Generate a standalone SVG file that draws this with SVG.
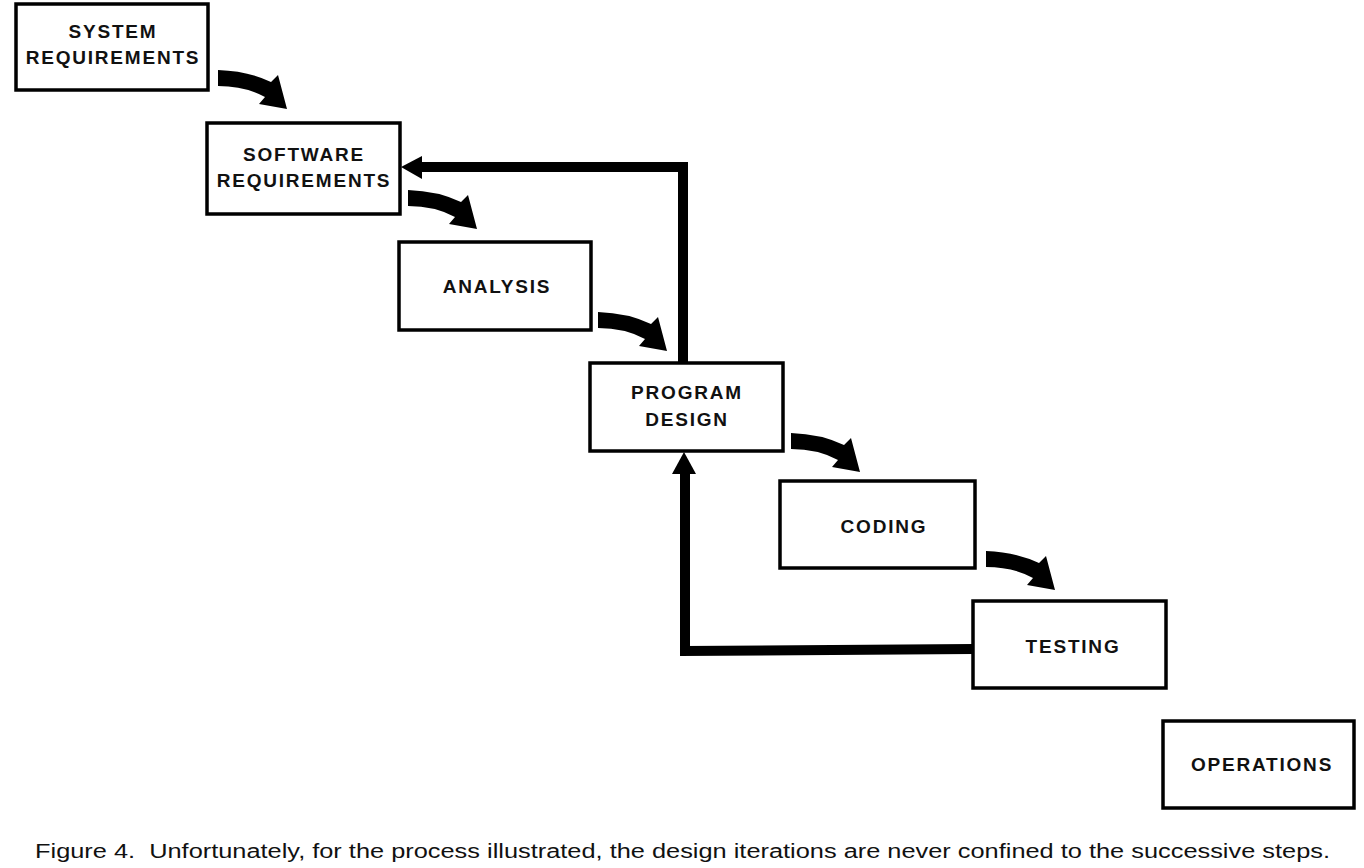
<svg xmlns="http://www.w3.org/2000/svg" width="1364" height="868" viewBox="0 0 1364 868">
<defs>
<style>
.box{fill:#fff;stroke:#000;stroke-width:3.5}
.lbl{font-family:"Liberation Sans",Arial,sans-serif;font-weight:bold;font-size:19px;letter-spacing:1.8px;text-anchor:middle;fill:#111}
.fb{fill:none;stroke:#000;stroke-width:10;stroke-linejoin:miter}
.cap{font-family:"Liberation Sans",Arial,sans-serif;font-size:20px;fill:#111;white-space:pre}
</style>
<path id="carrow" d="M0,-8 Q30,-7 53,4 L60,-3 L69,31 L41,26 L47,19 Q27,8 0,8 Z" fill="#000"/>
</defs>
<rect width="1364" height="868" fill="#fff"/>
<g id="node-system-requirements">
<rect class="box" x="16" y="4" width="192" height="86"/>
<text class="lbl" x="113" y="38">SYSTEM</text>
<text class="lbl" x="113" y="64">REQUIREMENTS</text>
</g>
<g id="node-software-requirements">
<rect class="box" x="207" y="123" width="193" height="91"/>
<text class="lbl" x="304" y="161">SOFTWARE</text>
<text class="lbl" x="304" y="187">REQUIREMENTS</text>
</g>
<g id="node-analysis">
<rect class="box" x="399" y="242" width="192" height="88"/>
<text class="lbl" x="497" y="293">ANALYSIS</text>
</g>
<g id="node-program-design">
<rect class="box" x="590" y="363" width="193" height="88"/>
<text class="lbl" x="687" y="399">PROGRAM</text>
<text class="lbl" x="687" y="426">DESIGN</text>
</g>
<g id="node-coding">
<rect class="box" x="780" y="481" width="195" height="87"/>
<text class="lbl" x="884" y="533">CODING</text>
</g>
<g id="node-testing">
<rect class="box" x="973" y="601" width="193" height="87"/>
<text class="lbl" x="1073" y="653">TESTING</text>
</g>
<g id="node-operations">
<rect class="box" x="1163" y="721" width="191" height="87"/>
<text class="lbl" x="1262" y="771">OPERATIONS</text>
</g>
<g id="connectors">
<use href="#carrow" x="218" y="78"/>
<use href="#carrow" x="408" y="198"/>
<use href="#carrow" x="598" y="320"/>
<use href="#carrow" x="791" y="441"/>
<use href="#carrow" x="986" y="559"/>
<polyline class="fb" points="683,362 683,167 418,167"/>
<polygon points="401,167 422,156 422,179" fill="#000"/>
<polyline class="fb" points="973,649 685,651 685,470"/>
<polygon points="684,452 672,474 696,474" fill="#000"/>
</g>
<text class="cap" x="35" y="858" textLength="1295" lengthAdjust="spacingAndGlyphs">Figure 4.  Unfortunately, for the process illustrated, the design iterations are never confined to the successive steps.</text>
</svg>
